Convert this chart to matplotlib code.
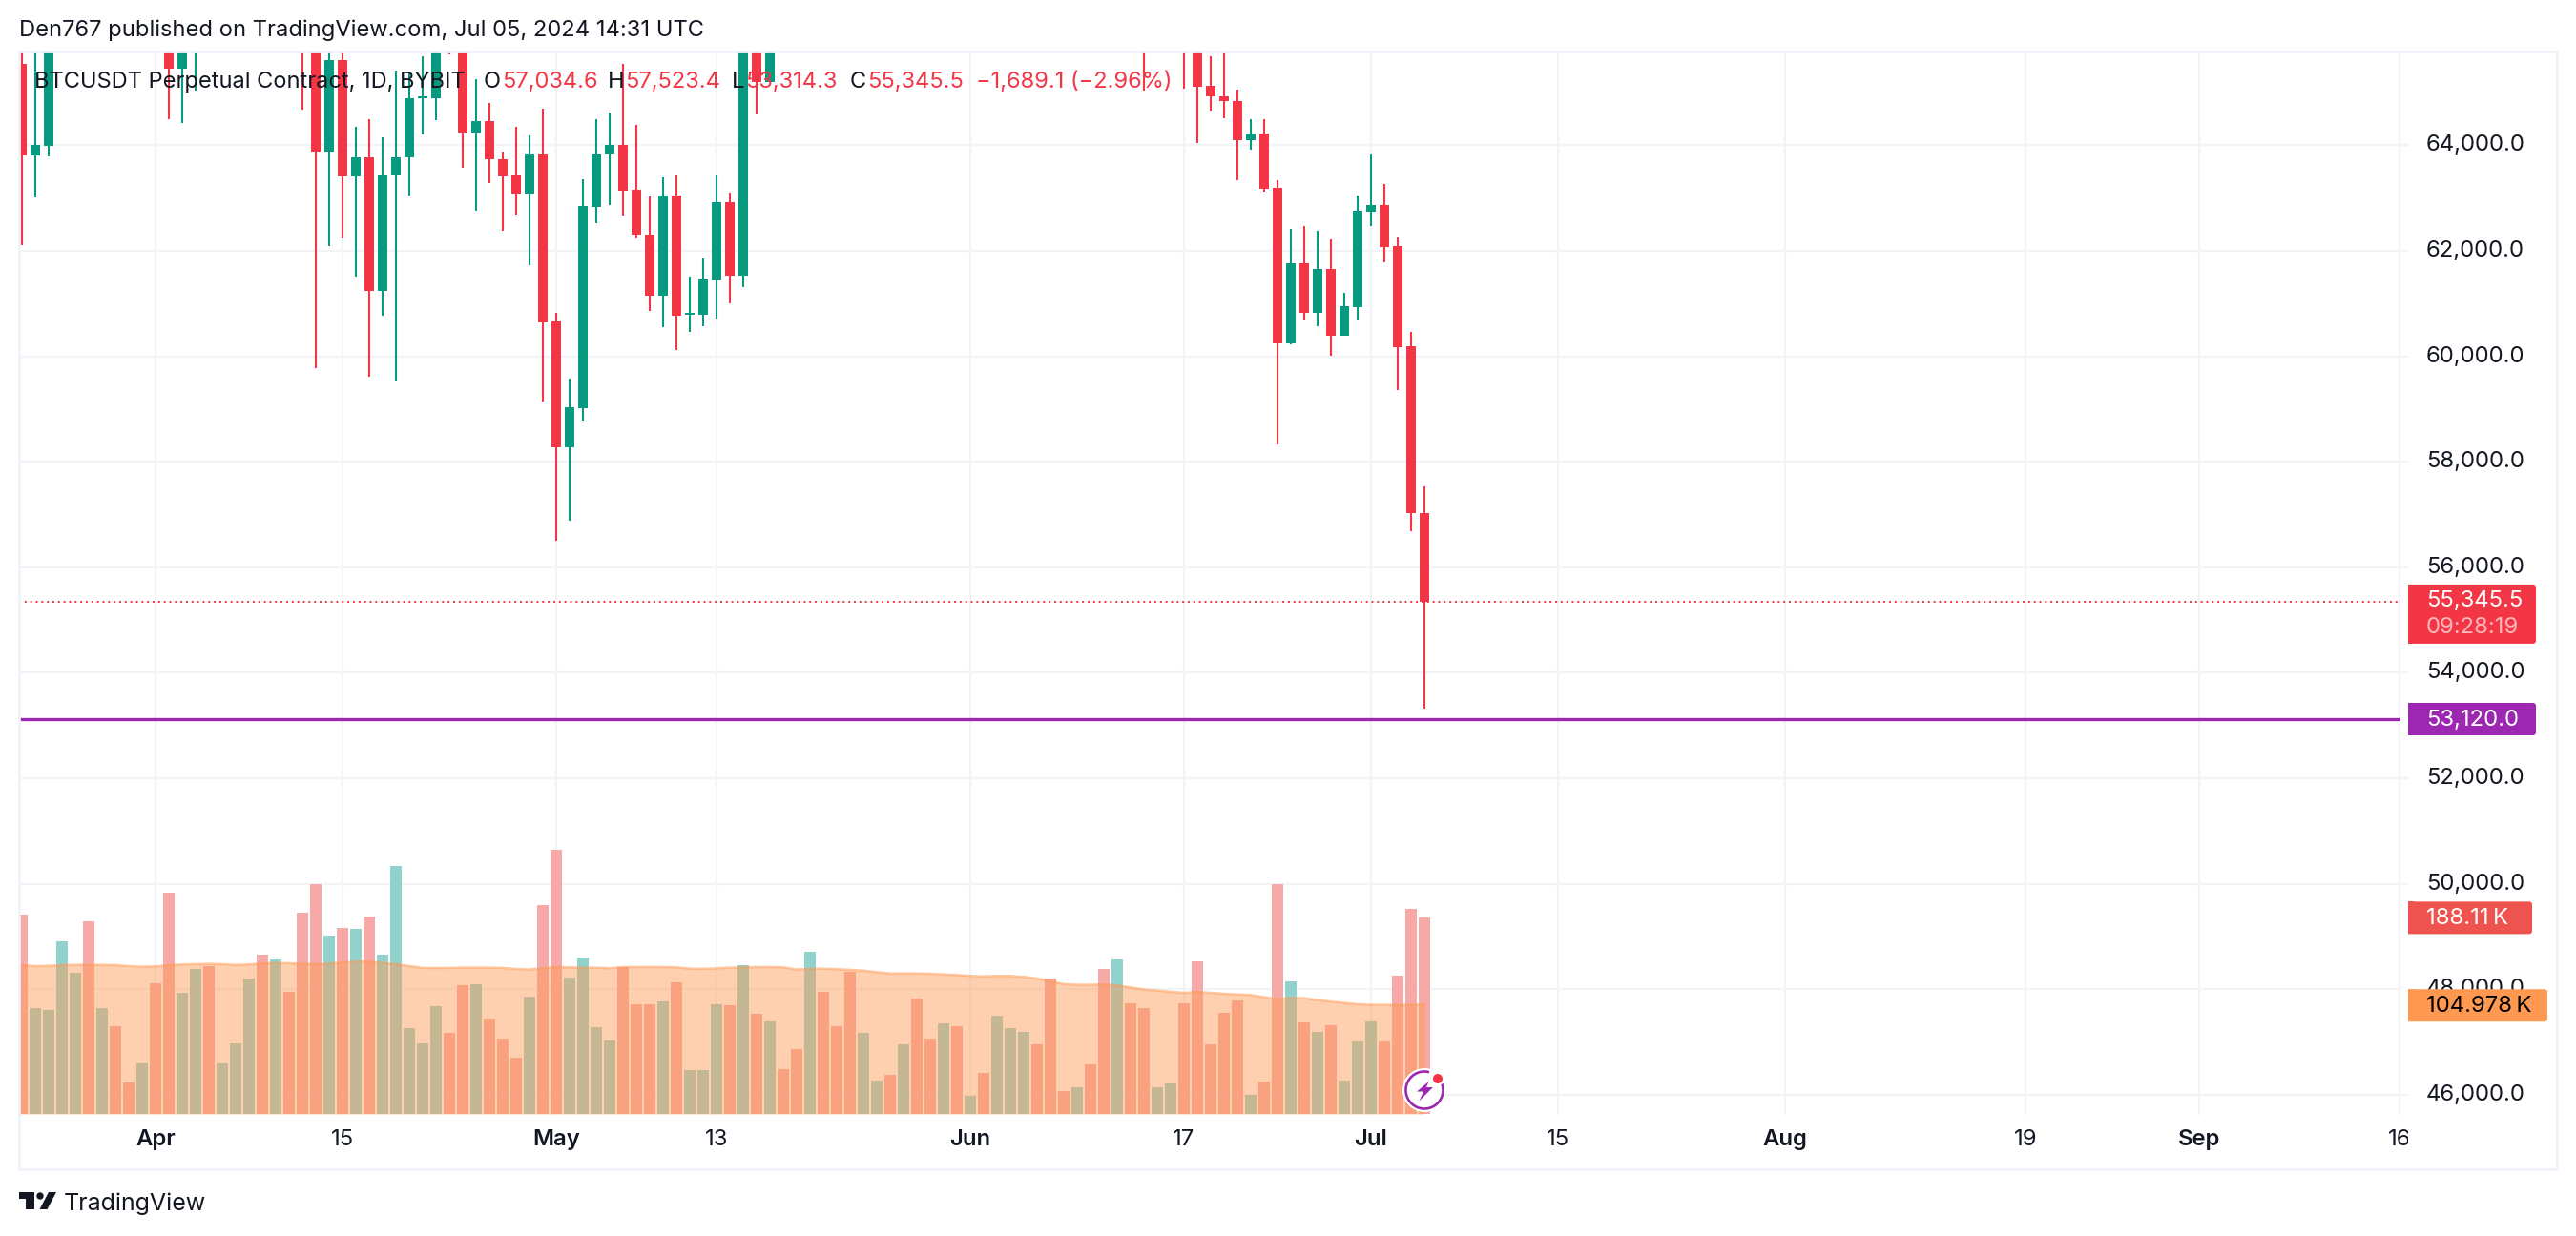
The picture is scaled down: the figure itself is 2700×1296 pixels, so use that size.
import matplotlib
matplotlib.use('Agg')
import matplotlib.pyplot as plt
import numpy as np
from matplotlib.patches import Rectangle, FancyBboxPatch, Polygon, Circle, Arc

plt.rcParams['font.family'] = ['Inter', 'DejaVu Sans']

RED = '#f23645'
GREEN = '#089981'
INK = '#131722'
GRID = '#f2f3f6'
BORDER = '#f0f3fa'
PURPLE = '#9c27b0'

# days counted from Apr 1 2024, first candle is Mar 22
days = np.arange(-10, 96)

# candles above the top of the pane are estimates, they are clipped anyway
opens = [65535, 63807, 63986, 67200, 70500, 71000, 69400, 70300, 69800, 69600,
         71200, 69500, 65457, 65960, 68500, 67800, 68900, 69300, 71600, 69100,
         70600, 70000, 67100, 63886, 65621, 63407, 63764, 61244, 63429, 63764,
         64895, 64885, 66850, 66400, 64236, 64464, 63743, 63421, 63086, 63836,
         60658, 58281, 59023, 62829, 63843, 64000, 63150, 62315, 61151, 63043,
         60790, 60780, 61437, 62915, 61530, 66200, 65207, 66900, 67100, 66900,
         71400, 70100, 69100, 67900, 68500, 69200, 68500, 69400, 68300, 67500,
         68300, 67500, 67700, 67500, 69000, 70500, 71000, 70700, 69300, 69250,
         69600, 69300, 67300, 68300, 66700, 66000, 66200, 66500, 65900, 65135,
         64935, 64843, 64093, 64214, 63186, 60251, 61758, 60823, 61651, 60394,
         60937, 62743, 62858, 62086, 60187, 57034.6]
highs = [66200, 66000, 67500, 71500, 71600, 71500, 70800, 70700, 70300, 71300,
         71400, 69700, 66900, 69200, 68700, 69000, 70000, 72700, 72700, 71100,
         71300, 71200, 67900, 66800, 66800, 64357, 64486, 64157, 65421, 65407,
         65685, 67200, 67000, 66600, 65257, 64793, 63886, 64343, 64193, 64700,
         60815, 59573, 63350, 64500, 64628, 65535, 64393, 63022, 63400, 63436,
         61508, 61851, 63436, 63093, 66500, 66700, 67000, 67400, 67700, 71500,
         71900, 70600, 70000, 69200, 69200, 69500, 70600, 70000, 69500, 69500,
         69000, 67800, 68900, 70200, 71700, 71900, 71300, 71900, 69500, 69900,
         69900, 69500, 70000, 68400, 67300, 66800, 67000, 67200, 66500, 65692,
         66000, 65057, 64500, 64486, 63329, 62408, 62465, 62372, 62208, 61201,
         63043, 63836, 63257, 62243, 60459, 57523.4]
lows = [62101, 63008, 63786, 66500, 68400, 68900, 69100, 69400, 69500, 69500,
        68800, 64493, 64421, 65042, 66000, 67500, 68500, 69000, 68200, 67500,
        69500, 64671, 59780, 62094, 62236, 61508, 59616, 60773, 59523, 63050,
        64200, 64471, 65720, 63571, 62758, 63279, 62379, 62686, 61729, 59145,
        56510, 56889, 58788, 62522, 62865, 62665, 62236, 60866, 60558, 60123,
        60466, 60573, 60716, 61008, 61315, 64585, 65207, 66000, 66600, 66600,
        69200, 69000, 66300, 67500, 68200, 68300, 68200, 67200, 67100, 67100,
        66600, 67400, 67400, 67300, 68500, 70300, 70300, 68300, 69200, 69100,
        69000, 66100, 66900, 66300, 65028, 65900, 66000, 65064, 64043, 64657,
        64507, 63336, 63914, 63122, 58331, 60230, 60673, 60566, 60016, 60394,
        60673, 62472, 61787, 59366, 56689, 53314.3]
closes = [63807, 64000, 67200, 70500, 71000, 69400, 70300, 69800, 69600, 71200,
          69500, 65457, 65960, 68500, 67800, 68900, 69300, 71600, 69100, 70600,
          70000, 67100, 63886, 65621, 63407, 63764, 61244, 63436, 63779, 64900,
          64920, 66400, 66400, 64236, 64464, 63736, 63407, 63086, 63836, 60644,
          58281, 59030, 62843, 63850, 64000, 63136, 62308, 61151, 63043, 60773,
          60815, 61451, 62915, 61530, 66200, 65207, 66900, 66250, 66900, 71400,
          70100, 69100, 67900, 68500, 69200, 68500, 69400, 68300, 67500, 68300,
          67500, 67700, 67500, 69000, 70500, 71000, 70700, 69300, 69250, 69600,
          69300, 67300, 68300, 66700, 66000, 66200, 66500, 65900, 65114, 64921,
          64835, 64093, 64214, 63172, 60251, 61758, 60823, 61651, 60394, 60944,
          62750, 62858, 62072, 60173, 57031, 55345.5]

# volume in thousands
volumes = [191.1, 101.6, 99.8, 165.5, 135.4, 184.7, 101.6, 84.3, 30.4, 48.7,
           125.4, 212.1, 116.2, 139.1, 141.8, 48.7, 67.9, 129.9, 152.8, 148.2,
           117.2, 192.9, 220.3, 171.0, 178.3, 177.4, 189.3, 152.8, 237.7, 82.5,
           67.9, 103.5, 77.9, 123.5, 124.5, 91.6, 72.4, 54.2, 112.6, 200.2,
           253.2, 130.8, 150.0, 83.4, 70.6, 140.9, 105.3, 105.3, 108.0, 126.3,
           42.3, 42.3, 105.3, 104.4, 142.7, 96.2, 88.9, 43.2, 62.4, 155.5,
           117.2, 84.3, 136.3, 77.9, 32.3, 37.7, 66.9, 110.8, 72.4, 87.0,
           84.3, 17.6, 39.6, 94.3, 82.5, 78.8, 66.9, 129.9, 22.2, 25.9,
           47.8, 139.1, 148.2, 106.2, 101.6, 25.9, 29.5, 106.2, 146.4, 66.9,
           97.1, 108.9, 18.6, 31.3, 220.3, 127.2, 87.9, 78.8, 85.2, 32.3,
           69.7, 88.9, 69.7, 132.7, 196.6, 188.11]

# volume moving average, starts one day before the first candle
ma_days = np.arange(-11, 96)
volume_ma = [142.5, 142.7, 141.8, 142.1, 142.7, 143.0, 143.0, 143.0, 142.7, 141.8, 141.2,
             141.5, 142.7, 143.3, 143.6, 143.9, 143.6, 143.0, 143.3, 144.5, 144.8,
             144.5, 143.9, 143.6, 144.2, 145.2, 146.1, 146.1, 144.8, 143.6, 141.8,
             140.0, 140.0, 140.0, 140.3, 140.3, 140.3, 140.0, 139.1, 138.5, 139.7,
             140.9, 140.6, 140.3, 140.3, 139.7, 140.9, 140.9, 140.9, 140.9, 140.6,
             139.4, 139.1, 139.7, 140.3, 140.6, 140.9, 140.9, 140.6, 138.5, 139.1,
             139.4, 138.8, 138.2, 137.5, 136.0, 134.8, 134.8, 134.8, 134.5, 133.9,
             133.3, 132.4, 132.1, 132.4, 132.4, 131.5, 129.9, 127.5, 124.5, 123.9,
             123.9, 124.2, 123.2, 121.4, 119.3, 118.4, 117.2, 116.2, 116.9, 116.2,
             115.3, 114.7, 114.1, 112.0, 110.2, 111.4, 111.1, 109.2, 107.7, 106.5,
             105.3, 104.7, 104.7, 104.4, 104.7, 104.978]

price_ticks = [46000, 48000, 50000, 52000, 54000, 56000, 58000, 60000, 62000, 64000]
time_ticks = [0, 14, 30, 42, 61, 77, 91, 105, 122, 140, 153, 168]
time_labels = ['Apr', '15', 'May', '13', 'Jun', '17', 'Jul', '15', 'Aug', '19', 'Sep', '16']
bold_labels = ['Apr', 'May', 'Jun', 'Jul', 'Aug', 'Sep']

support_level = 53120.0
last_close = closes[-1]
last_volume = volumes[-1]
last_ma = volume_ma[-1]

W, H = 2700, 1296
L, R, T, B = 20, 2524, 54, 1169

fig = plt.figure(figsize=(W / 100, H / 100), dpi=100, facecolor='white')
ax = fig.add_axes([L / W, 1 - B / H, (R - L) / W, (B - T) / H])
ax.set_xlim(-10.21, 168.64)
ax.set_ylim(45615, 65778)
for s in ax.spines.values():
    s.set_visible(False)

ax.set_xticks(time_ticks)
ax.set_xticklabels(time_labels)
ax.set_yticks(price_ticks)
ax.set_yticklabels([])
ax.tick_params(axis='y', length=0)
ax.tick_params(axis='x', length=0, pad=11, labelsize=17.2, labelcolor=INK)
for lab in ax.get_xticklabels():
    if lab.get_text() in bold_labels:
        lab.set_fontweight('semibold')
ax.grid(True, color=GRID, linewidth=1.6)
ax.set_axisbelow(True)

opens = np.array(opens)
closes = np.array(closes)
colors = [GREEN if c >= o else RED for o, c in zip(opens, closes)]
ax.vlines(days, lows, highs, colors=colors, linewidth=1.5, zorder=3)
body_low = np.minimum(opens, closes)
body_h = np.maximum(np.abs(closes - opens), 30)
ax.bar(days, body_h, bottom=body_low, width=0.72, color=colors, linewidth=0, zorder=4)

ax.axhline(last_close, color=RED, linewidth=1.4, dashes=(1.0, 2.0), zorder=2)
ax.axhline(support_level, color=PURPLE, linewidth=2.4, zorder=5)

# volume pane shares the same box
vol = fig.add_axes(ax.get_position(), sharex=ax, facecolor='none')
vol.set_ylim(-0.9, 1019)
vol.axis('off')
vol_colors = ['#92d2cc' if c >= o else '#f7a9a7' for o, c in zip(opens, closes)]
vol.bar(days, volumes, width=0.86, color=vol_colors, linewidth=0, zorder=1)
vol.fill_between(ma_days, volume_ma, 0, color='#ff9850', alpha=0.45, linewidth=0, zorder=2)
vol.plot(ma_days, volume_ma, color='#ff9850', alpha=0.55, linewidth=1.8, zorder=3)

# everything else in plain pixels on an overlay
fig.canvas.draw()
ov = fig.add_axes([0, 0, 1, 1])
ov.set_xlim(0, W)
ov.set_ylim(H, 0)
ov.axis('off')


def px_y(axes, value):
    return H - axes.transData.transform((0, value))[1]


def px_x(axes, value):
    return axes.transData.transform((value, 0))[0]


def scale_tag(y0, y1, x1, color):
    ov.add_patch(FancyBboxPatch((R - 8, y0), x1 - R + 8, y1 - y0,
                                boxstyle='round,pad=0,rounding_size=3', fc=color, ec='none', zorder=6))
    ov.add_patch(Rectangle((R - 8, y0 - 1), 8, y1 - y0 + 2, fc='white', ec='none', zorder=6))
    ov.add_patch(Rectangle((R, y0), 6, y1 - y0, fc=color, ec='none', zorder=6))


# hide the tail of the cut off time label
ov.add_patch(Rectangle((R, B + 2), 140, 50, fc='white', ec='none', zorder=5))

ov.add_patch(Rectangle((L, T), 2680 - L, 1226 - T, fc='none', ec=BORDER, lw=2, zorder=5))

for v in price_ticks:
    ov.text(2543, px_y(ax, v), '{:,.1f}'.format(v), color=INK, fontsize=17.2, va='center', zorder=5)

y_close = px_y(ax, last_close)
scale_tag(y_close - 18, y_close + 44, 2658, RED)
ov.text(2543, y_close - 1, '{:,.1f}'.format(last_close), color='white', fontsize=17.2, va='center', zorder=7)
ov.text(2543, y_close + 27, '09:28:19', color='#fbb6bb', fontsize=17.2, va='center', zorder=7)

y_sup = px_y(ax, support_level)
scale_tag(y_sup - 17, y_sup + 17, 2658, PURPLE)
ov.text(2543, y_sup + 1, '{:,.1f}'.format(support_level), color='white', fontsize=17.2, va='center', zorder=7)

y_vol = px_y(vol, last_volume)
scale_tag(y_vol - 17, y_vol + 17, 2654, '#ef5350')
ov.text(2543, y_vol + 1, '188.11\u2009K', color='white', fontsize=17.2, va='center', zorder=7)

y_ma = px_y(vol, last_ma)
scale_tag(y_ma - 16, y_ma + 18, 2670, '#ff9850')
ov.text(2543, y_ma + 2, '104.978\u2009K', color='black', fontsize=17.2, va='center', zorder=7)

# header and legend row
ov.text(20, 32, 'Den767 published on TradingView.com, Jul 05, 2024 14:31 UTC', color=INK, fontsize=17.1, va='center')
legend_y = 86
ov.text(36, legend_y, 'BTCUSDT Perpetual Contract, 1D, BYBIT', color=INK, fontsize=17, va='center', zorder=7)
for x, txt, col in [(507, 'O', INK), (526, '57,034.6', RED), (637, 'H', INK), (655, '57,523.4', RED),
                    (767, 'L', INK), (781, '53,314.3', RED), (891, 'C', INK), (909, '55,345.5', RED),
                    (1023, '\u22121,689.1 (\u22122.96%)', RED)]:
    ov.text(x, legend_y, txt, color=col, fontsize=17, va='center', zorder=7)

# bolt badge on the last bar
bx, by = px_x(ax, days[-1]), 1143
ov.add_patch(Circle((bx, by), 23, fc='white', ec='none', zorder=6))
ov.add_patch(Arc((bx, by), 39, 39, theta1=-20, theta2=285, ec=PURPLE, lw=1.9, zorder=7))
ov.add_patch(Polygon([(bx + 4.5, by - 9), (bx - 8, by + 1.5), (bx - 1, by + 1.5), (bx - 5.5, by + 11.5),
                      (bx + 9, by - 3), (bx + 2, by - 3)], fc=PURPLE, ec='none', zorder=7))
ov.add_patch(Circle((bx + 14, by - 12), 7, fc='white', ec='none', zorder=8))
ov.add_patch(Circle((bx + 14, by - 12), 5, fc=RED, ec='none', zorder=8))

# logo
ov.add_patch(Polygon([(20, 1250), (36, 1250), (36, 1268), (27, 1268), (27, 1257), (20, 1257)], fc=INK, ec='none'))
ov.add_patch(Circle((42, 1254), 3.7, fc=INK, ec='none'))
ov.add_patch(Polygon([(51, 1250), (59, 1250), (49.5, 1268), (41.5, 1268)], fc=INK, ec='none'))
ov.text(67, 1262, 'TradingView', color=INK, fontsize=18, va='center')

fig.savefig('out.png', dpi=100)
